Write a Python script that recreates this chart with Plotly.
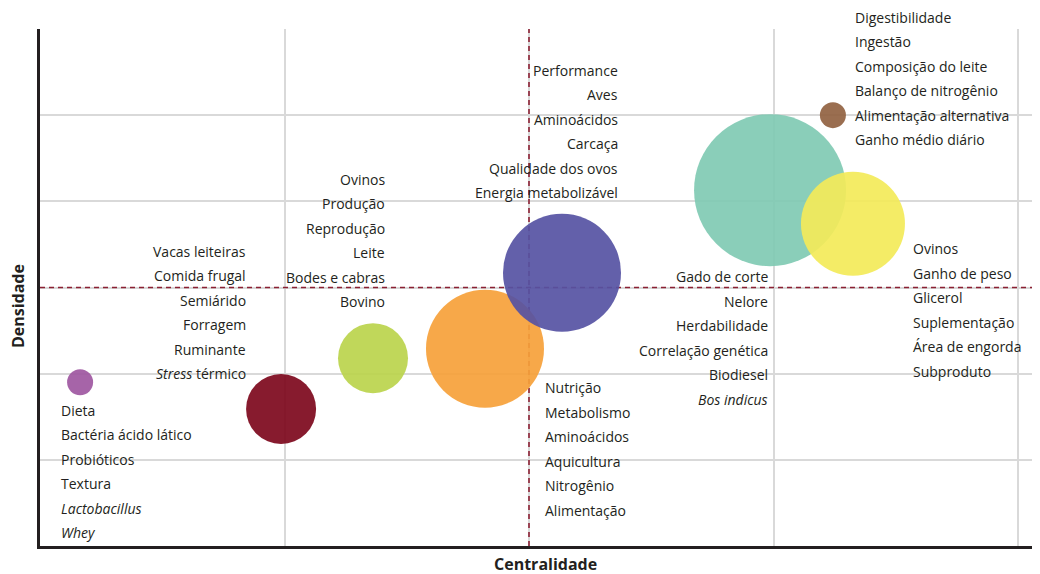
import plotly.graph_objects as go

# ---- data ----
clusters = ["Probióticos", "Ruminantes", "Caprinos/Ovinos", "Nutrição", "Aves", "Gado de corte", "Ovinos", "Digestibilidade"]
centralidade = [0.164, 0.986, 1.362, 1.82, 2.135, 2.986, 3.325, 3.243]
densidade = [1.90, 1.59, 2.18, 2.29, 3.17, 4.13, 3.74, 5.00]
tamanho = [26, 70, 70, 118, 118, 152, 104, 26]
cores = ["#9E57A1", "#7D081C", "#BBD44C", "#F6A13A", "#5653A3", "#80CAB3", "#F3EA59", "#916241"]

rotulos = [
    ["Dieta", "Bactéria ácido lático", "Probióticos", "Textura", "<i>Lactobacillus</i>", "<i>Whey</i>"],
    ["Vacas leiteiras", "Comida frugal", "Semiárido", "Forragem", "Ruminante", "<i>Stress</i> térmico"],
    ["Ovinos", "Produção", "Reprodução", "Leite", "Bodes e cabras", "Bovino"],
    ["Nutrição", "Metabolismo", "Aminoácidos", "Aquicultura", "Nitrogênio", "Alimentação"],
    ["Performance", "Aves", "Aminoácidos", "Carcaça", "Qualidade dos ovos", "Energia metabolizável"],
    ["Gado de corte", "Nelore", "Herdabilidade", "Correlação genética", "Biodiesel", "<i>Bos indicus</i>"],
    ["Ovinos", "Ganho de peso", "Glicerol", "Suplementação", "Área de engorda", "Subproduto"],
    ["Digestibilidade", "Ingestão", "Composição do leite", "Balanço de nitrogênio", "Alimentação alternativa", "Ganho médio diário"],
]

# label block placement: data coords of the anchor line, which line is the anchor, alignment
rot_x = [0.078, 0.851, 1.419, 2.057, 2.372, 2.986, 3.562, 3.325]
rot_y = [1.578, 3.423, 4.259, 1.834, 5.524, 3.122, 3.447, 5.000]
rot_ancora = [0, 0, 0, 0, 0, 0, 0, 4]
rot_lado = ["left", "right", "right", "left", "right", "right", "left", "left"]

limiar_x = 2
limiar_y = 3
x_max = 4.09
y_max = 6

TXT = "#231F20"
FONT = "Open Sans"
LINE = 24.5
DASH = "#8B2033"

fig = go.Figure()
fig.add_trace(go.Scatter(x=[limiar_x, limiar_x], y=[0, y_max], mode="lines",
                         line=dict(color=DASH, width=1.6, dash="5px,4px"),
                         showlegend=False, hoverinfo="skip"))
fig.add_trace(go.Scatter(x=[0, x_max], y=[limiar_y, limiar_y], mode="lines",
                         line=dict(color=DASH, width=1.6, dash="5px,4px"),
                         showlegend=False, hoverinfo="skip"))
fig.add_trace(go.Scatter(
    x=centralidade, y=densidade, mode="markers",
    marker=dict(size=tamanho, sizemode="diameter", color=cores, opacity=0.92,
                line=dict(width=0)),
    hovertext=clusters, showlegend=False,
))

annotations = []
for lines, lx, ly, anc, side in zip(rotulos, rot_x, rot_y, rot_ancora, rot_lado):
    for i, t in enumerate(lines):
        annotations.append(dict(
            x=lx, y=ly, xref="x", yref="y", text=t, showarrow=False,
            xanchor=side, yanchor="middle", yshift=(anc - i) * LINE,
            font=dict(family=FONT, size=14, color=TXT),
        ))

annotations.append(dict(x=0.505, y=-0.035, xref="paper", yref="paper", text="<b>Centralidade</b>",
                        showarrow=False, xanchor="center", yanchor="middle",
                        font=dict(family=FONT, size=16, color=TXT)))
annotations.append(dict(x=-0.022, y=0.464, xref="paper", yref="paper", text="<b>Densidade</b>",
                        showarrow=False, xanchor="center", yanchor="middle", textangle=-90,
                        font=dict(family=FONT, size=16, color=TXT)))

fig.update_layout(
    width=1032, height=566,
    margin=dict(l=32, r=0, t=21, b=28),
    paper_bgcolor="white", plot_bgcolor="white",
    annotations=annotations,
    xaxis=dict(range=[0, x_max], tickvals=[1, 2, 3, 4], showticklabels=False, ticks="",
               showgrid=True, gridcolor="#D9D9D9", gridwidth=1.5, zeroline=False,
               showline=True, linecolor=TXT, linewidth=3),
    yaxis=dict(range=[0, y_max], tickvals=[1, 2, 3, 4, 5, 6], showticklabels=False, ticks="",
               showgrid=True, gridcolor="#D9D9D9", gridwidth=1.5, zeroline=False,
               showline=True, linecolor=TXT, linewidth=3),
)

fig.write_html("out.html")
